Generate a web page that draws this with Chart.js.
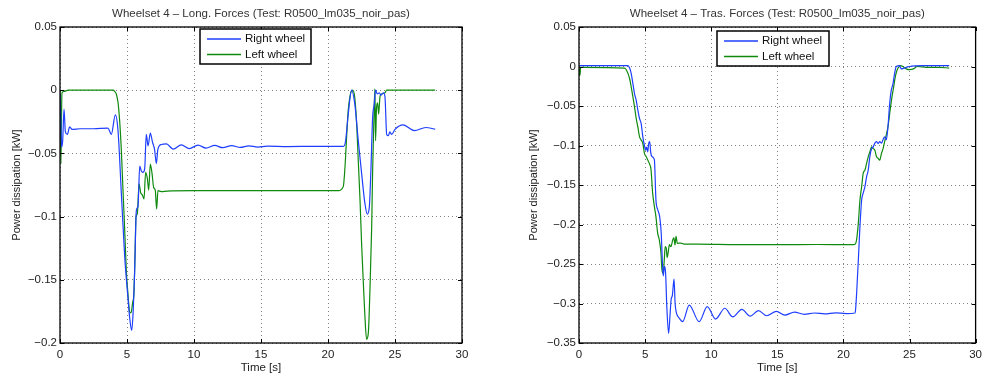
<!DOCTYPE html>
<html>
<head>
<meta charset="utf-8">
<script src="https://cdn.jsdelivr.net/npm/chart.js@4"></script>
<style>
  body { margin: 0; background: #fff; }
  .box { position: absolute; top: 0; }
</style>
</head>
<body>
<div class="box" style="left:0"><canvas id="longChart" width="490" height="378"></canvas></div>
<div class="box" style="left:497px"><canvas id="trasChart" width="490" height="378"></canvas></div>
<script>
const seriesNames = ["Right wheel", "Left wheel"];
const xTicks = [0, 5, 10, 15, 20, 25, 30];
const longYTicks = [0.05, 0, -0.05, -0.1, -0.15, -0.2];
const trasYTicks = [0.05, 0, -0.05, -0.1, -0.15, -0.2, -0.25, -0.3, -0.35];

// Long. forces - right wheel
const longTimeRight = [0, 0.05, 0.12, 0.2, 0.3, 0.4, 0.55, 0.72, 0.9, 1.5,
  2.5, 3.58, 3.83, 4.13, 4.33, 4.58, 4.83, 5.07, 5.2, 5.35,
  5.45, 5.57, 5.7, 5.82, 5.95, 6.07, 6.19, 6.32, 6.44, 6.57,
  6.74, 6.9, 7.06, 7.19, 7.3, 7.56, 7.94, 8.45, 9.05, 9.65,
  10.3, 10.9, 11.55, 12.15, 12.8, 13.45, 14.1, 14.75, 15.5, 17,
  19, 21.14, 21.3, 21.51, 21.76, 22.0, 22.26, 22.51, 22.76, 22.93,
  23.08, 23.2, 23.33, 23.45, 23.55, 23.68, 23.83, 23.95, 24.13, 24.25,
  24.38, 24.5, 24.62, 24.75, 25.0, 25.6, 26.45, 27.3, 28];
const longRight = [-0.003, -0.02, -0.045, -0.04, -0.015, -0.033, -0.035, -0.029, -0.031, -0.0305,
  -0.0305, -0.030, -0.035, -0.0195, -0.032, -0.082, -0.132, -0.164, -0.18, -0.19,
  -0.177, -0.143, -0.095, -0.092, -0.06, -0.064, -0.065, -0.062, -0.035, -0.044,
  -0.034, -0.041, -0.047, -0.058, -0.047, -0.043, -0.0425, -0.0466, -0.0432, -0.0462,
  -0.0435, -0.0458, -0.0437, -0.0455, -0.0438, -0.0453, -0.044, -0.045, -0.0443, -0.0446,
  -0.0444, -0.0445, -0.041, -0.019, 0, -0.011, -0.04, -0.066, -0.09, -0.098,
  -0.093, -0.064, -0.0216, -0.011, 0, -0.003, -0.002, -0.004, -0.002, -0.005,
  -0.035, -0.036, -0.033, -0.035, -0.031, -0.0275, -0.032, -0.0295, -0.0308];

// Long. forces - left wheel
const longTimeLeft = [0, 0.04, 0.07, 0.1, 0.15, 0.3, 0.6, 3.96, 4.08, 4.2,
  4.33, 4.45, 4.58, 4.7, 4.83, 4.95, 5.07, 5.2, 5.3, 5.42,
  5.52, 5.6, 5.67, 5.77, 5.9, 6.02, 6.15, 6.27, 6.39, 6.52,
  6.62, 6.74, 6.87, 6.99, 7.11, 7.21, 7.31, 7.56, 8, 10,
  15, 20.77, 21.14, 21.27, 21.4, 21.51, 21.7, 21.84, 22.0, 22.14,
  22.26, 22.39, 22.51, 22.64, 22.76, 22.88, 23.01, 23.13, 23.26, 23.33,
  23.43, 23.5, 23.55, 23.62, 23.7, 23.78, 23.88, 24.0, 24.25, 24.38,
  28];
const longLeft = [0, -0.03, -0.058, -0.03, -0.002, -0.001, 0, 0, -0.001, -0.003,
  -0.0097, -0.024, -0.048, -0.079, -0.111, -0.143, -0.161, -0.1755, -0.176, -0.168,
  -0.16, -0.13, -0.1, -0.098, -0.074, -0.081, -0.083, -0.086, -0.065, -0.07,
  -0.079, -0.0584, -0.066, -0.077, -0.079, -0.094, -0.0795, -0.0802, -0.0798, -0.0795,
  -0.0795, -0.0795, -0.0763, -0.0605, -0.035, -0.016, -0.002, 0, -0.006, -0.027,
  -0.056, -0.087, -0.122, -0.153, -0.18, -0.197, -0.192, -0.158, -0.108, -0.064,
  -0.0216, 0.001, -0.04, -0.014, -0.01, -0.019, -0.005, -0.003, -0.002, 0,
  0];

// Tras. forces - right wheel
const trasTimeRight = [0, 3.7, 3.83, 3.95, 4.08, 4.2, 4.33, 4.45, 4.58, 4.7,
  4.83, 4.95, 5.05, 5.12, 5.2, 5.27, 5.35, 5.42, 5.52, 5.7,
  5.82, 5.95, 6.1, 6.22, 6.3, 6.37, 6.47, 6.55, 6.64, 6.78,
  6.88, 6.97, 7.06, 7.19, 7.27, 7.37, 7.56, 7.84, 8.34, 9.09,
  9.7, 10.33, 11.03, 11.63, 12.32, 12.95, 13.57, 14.19, 14.94, 15.56,
  16.3, 17.05, 17.8, 18.6, 19.4, 20.2, 20.88, 20.93, 21.0, 21.13,
  21.25, 21.38, 21.5, 21.63, 21.75, 21.88, 22.0, 22.13, 22.25, 22.38,
  22.5, 22.63, 22.75, 22.88, 22.99, 23.12, 23.24, 23.37, 23.5, 23.62,
  23.75, 23.87, 24.0, 24.25, 24.37, 24.6, 25, 26, 28];
const trasRight = [0.001, 0.001, -0.002, -0.009, -0.022, -0.0345, -0.043, -0.055, -0.066, -0.072,
  -0.089, -0.1, -0.106, -0.102, -0.108, -0.0975, -0.095, -0.108, -0.114, -0.118,
  -0.169, -0.181, -0.19, -0.211, -0.245, -0.265, -0.253, -0.261, -0.303, -0.338,
  -0.316, -0.295, -0.29, -0.269, -0.3, -0.312, -0.318, -0.323, -0.302, -0.323,
  -0.304, -0.3197, -0.306, -0.317, -0.3075, -0.316, -0.309, -0.3155, -0.31, -0.3147,
  -0.311, -0.3138, -0.312, -0.3132, -0.3118, -0.3128, -0.312, -0.306, -0.287, -0.245,
  -0.203, -0.169, -0.16, -0.152, -0.14, -0.131, -0.114, -0.104, -0.102, -0.097,
  -0.095, -0.0975, -0.095, -0.097, -0.093, -0.089, -0.093, -0.0765, -0.047, -0.03,
  -0.022, -0.009, 0, 0.001, -0.003, -0.002, 0, 0.001, 0.001];

// Tras. forces - left wheel
const trasTimeLeft = [0, 0.04, 0.08, 0.12, 0.3, 3.46, 3.71, 3.83, 3.95, 4.08,
  4.2, 4.33, 4.45, 4.58, 4.7, 4.83, 4.95, 5.08, 5.2, 5.32,
  5.45, 5.57, 5.7, 5.82, 5.95, 6.07, 6.2, 6.27, 6.37, 6.45,
  6.52, 6.6, 6.67, 6.74, 6.84, 6.95, 7.1, 7.18, 7.26, 7.34,
  7.44, 7.56, 7.7, 7.94, 9, 12, 15, 18, 20.63, 20.88,
  21.0, 21.13, 21.25, 21.38, 21.5, 21.63, 21.75, 21.88, 22.0, 22.13,
  22.25, 22.38, 22.5, 22.63, 22.75, 22.88, 23.0, 23.12, 23.24, 23.37,
  23.5, 23.57, 23.67, 23.8, 23.92, 24.05, 24.17, 24.33, 24.5, 24.75,
  25.0, 25.3, 25.6, 26.26, 27.26, 28];
const trasLeft = [0, -0.01, -0.011, -0.001, -0.001, -0.002, -0.009, -0.0155, -0.026, -0.0387,
  -0.051, -0.066, -0.0765, -0.089, -0.093, -0.0975, -0.11, -0.114, -0.1185, -0.1227,
  -0.131, -0.16, -0.177, -0.19, -0.211, -0.219, -0.236, -0.257, -0.262, -0.245,
  -0.228, -0.23, -0.242, -0.236, -0.2256, -0.228, -0.219, -0.217, -0.226, -0.215,
  -0.224, -0.2235, -0.2235, -0.2248, -0.2248, -0.2255, -0.2255, -0.2253, -0.2256, -0.225,
  -0.219, -0.198, -0.169, -0.152, -0.135, -0.131, -0.123, -0.114, -0.108, -0.1017,
  -0.104, -0.106, -0.114, -0.1164, -0.1185, -0.11, -0.104, -0.095, -0.087, -0.0765,
  -0.06, -0.051, -0.0387, -0.026, -0.0134, -0.005, -0.001, 0.001, 0, -0.003,
  -0.004, -0.003, 0, -0.001, -0.001, -0.002];

const BLUE = "#1f3fff";
const GREEN = "#0f8a0f";
const FONT = '"Liberation Sans", Arial, Helvetica, sans-serif';

Chart.defaults.font.family = FONT;
Chart.defaults.font.size = 11.5;
Chart.defaults.color = "#222";

function toPoints(ts, vs) {
  return ts.map((t, i) => ({ x: t, y: vs[i] }));
}

function fmt(v) {
  const r = Math.round(v * 100) / 100;
  return r < 0 ? "\u2212" + Math.abs(r) : String(r);
}

// title centred on the axes, not on the canvas
const titlePlugin = {
  id: "axTitle",
  afterDraw(chart, args, opts) {
    const { ctx, chartArea: a } = chart;
    ctx.save();
    ctx.fillStyle = "#333";
    ctx.font = "11.5px " + FONT;
    ctx.textAlign = "center";
    ctx.textBaseline = "middle";
    ctx.fillText(opts.text, (a.left + a.right) / 2, 14);
    ctx.restore();
  },
};

// black box around the plot + inward tick marks like matlab
const framePlugin = {
  id: "frame",
  afterDatasetsDraw(chart) {
    const { ctx, chartArea: a, scales } = chart;
    ctx.save();
    ctx.strokeStyle = "#000";
    ctx.lineWidth = 1;
    ctx.beginPath();
    scales.x.ticks.forEach((t) => {
      const px = Math.round(scales.x.getPixelForValue(t.value)) + 0.5;
      ctx.moveTo(px, a.bottom); ctx.lineTo(px, a.bottom - 4);
      ctx.moveTo(px, a.top); ctx.lineTo(px, a.top + 4);
    });
    scales.y.ticks.forEach((t) => {
      const py = Math.round(scales.y.getPixelForValue(t.value)) + 0.5;
      ctx.moveTo(a.left, py); ctx.lineTo(a.left + 4, py);
      ctx.moveTo(a.right, py); ctx.lineTo(a.right - 4, py);
    });
    ctx.stroke();
    ctx.lineWidth = 1.3;
    ctx.strokeRect(a.left, a.top, a.right - a.left, a.bottom - a.top);
    ctx.restore();
  },
};

// legend box inside the axes
const legendPlugin = {
  id: "boxLegend",
  afterDraw(chart, args, opts) {
    const { ctx } = chart;
    const x = opts.x, y = opts.y;
    ctx.save();
    ctx.fillStyle = "#fff";
    ctx.fillRect(x, y, opts.w, opts.h);
    ctx.strokeStyle = "#000";
    ctx.lineWidth = 1.5;
    ctx.strokeRect(x, y, opts.w, opts.h);
    chart.data.datasets.forEach((ds, i) => {
      const ly = y + 10 + i * 15.5;
      ctx.strokeStyle = ds.borderColor;
      ctx.lineWidth = 1.3;
      ctx.beginPath();
      ctx.moveTo(x + 7, ly);
      ctx.lineTo(x + 41, ly);
      ctx.stroke();
      ctx.fillStyle = "#111";
      ctx.font = "11.5px " + FONT;
      ctx.textBaseline = "middle";
      ctx.fillText(ds.label, x + 45, ly);
    });
    ctx.restore();
  },
};

function makeChart(id, titulo, yTicks, series, lay) {
  const ctx = document.getElementById(id).getContext("2d");
  return new Chart(ctx, {
    type: "line",
    data: {
      datasets: series.map((s, i) => ({
        label: seriesNames[i],
        data: toPoints(s.t, s.v),
        borderColor: i === 0 ? BLUE : GREEN,
        borderWidth: 1.2,
        pointRadius: 0,
        cubicInterpolationMode: "monotone",
      })),
    },
    options: {
      responsive: false,
      animation: false,
      layout: { padding: { left: 0, right: lay.right, top: 27, bottom: 0 } },
      plugins: {
        legend: { display: false },
        tooltip: { enabled: false },
        title: { display: false },
        axTitle: { text: titulo },
        boxLegend: lay.legend,
      },
      scales: {
        x: {
          type: "linear",
          min: xTicks[0],
          max: xTicks[xTicks.length - 1],
          afterBuildTicks: (axis) => { axis.ticks = xTicks.map((v) => ({ value: v })); },
          afterFit: (axis) => { axis.height = 35; },
          ticks: { padding: 5, maxRotation: 0, callback: (v) => String(v) },
          grid: { color: "rgba(0,0,0,0.5)", lineWidth: 1, drawTicks: false },
          border: { display: false, dash: [1, 3] },
          title: { display: true, text: "Time [s]", font: { size: 11.5 }, padding: { top: 0, bottom: 3 } },
        },
        y: {
          type: "linear",
          min: yTicks[yTicks.length - 1],
          max: yTicks[0],
          afterBuildTicks: (axis) => { axis.ticks = yTicks.map((v) => ({ value: v })); },
          afterFit: (axis) => { axis.width = lay.left; },
          ticks: { padding: 3, callback: (v) => fmt(v) },
          grid: { color: "rgba(0,0,0,0.5)", lineWidth: 1, drawTicks: false },
          border: { display: false, dash: [1, 3] },
          title: { display: true, text: "Power dissipation [kW]", font: { size: 11 }, padding: { top: lay.ytitle, bottom: 0 } },
        },
      },
    },
    plugins: [framePlugin, legendPlugin, titlePlugin],
  });
}

makeChart("longChart", "Wheelset 4 \u2013 Long. Forces (Test: R0500_lm035_noir_pas)", longYTicks,
  [{ t: longTimeRight, v: longRight }, { t: longTimeLeft, v: longLeft }],
  { left: 60, right: 28, ytitle: 10, legend: { x: 200, y: 29, w: 111, h: 35 } });

makeChart("trasChart", "Wheelset 4 \u2013 Tras. Forces (Test: R0500_lm035_noir_pas)", trasYTicks,
  [{ t: trasTimeRight, v: trasRight }, { t: trasTimeLeft, v: trasLeft }],
  { left: 82, right: 7, ytitle: 30.7, legend: { x: 220, y: 31, w: 112, h: 35 } });
</script>
</body>
</html>
